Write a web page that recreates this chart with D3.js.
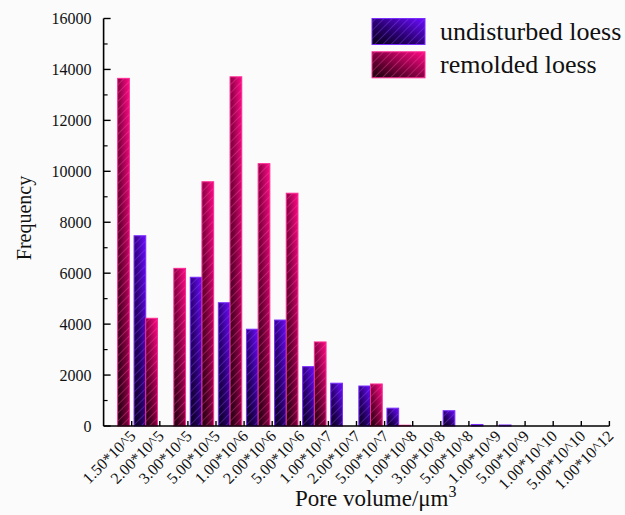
<!DOCTYPE html>
<html>
<head>
<meta charset="utf-8">
<script src="https://cdn.jsdelivr.net/npm/d3@7"></script>
<style>
  html, body { margin: 0; padding: 0; background: #fbfbfb; }
  svg { display: block; }
  text { font-family: "Liberation Serif", "Times New Roman", serif; fill: #111; }
</style>
</head>
<body>
<svg id="chart" width="625" height="515"></svg>
<script>
// Pore volume classes (upper bound of each class, μm^3)
const categories = [
  "1.50*10^5", "2.00*10^5", "3.00*10^5", "5.00*10^5", "1.00*10^6", "2.00*10^6",
  "5.00*10^6", "1.00*10^7", "2.00*10^7", "5.00*10^7", "1.00*10^8", "3.00*10^8",
  "5.00*10^8", "1.00*10^9", "5.00*10^9", "1.00*10^10", "5.00*10^10", "1.00*10^12"
];
const seriesNames = ["undisturbed loess", "remolded loess"];
const undisturbed = [0, 7470, 0, 5840, 4840, 3800, 4160, 2330, 1680, 1570, 700, 0, 600, 60, 40, 0, 0, 0];
const remolded = [13650, 4230, 6190, 9590, 13710, 10300, 9140, 3300, 0, 1650, 30, 0, 0, 0, 0, 0, 0, 0];
const yTicks = [0, 2000, 4000, 6000, 8000, 10000, 12000, 14000, 16000];

const svg = d3.select("#chart");
const plotLeft = 103.6, plotRight = 609.4, plotTop = 18.5, plotBottom = 426;

const x = d3.scaleBand().domain(categories).range([plotLeft, plotRight]).paddingInner(0).paddingOuter(0);
const xs = d3.scaleBand().domain(seriesNames).range([0, x.bandwidth()]).paddingInner(0).paddingOuter(0.2);
const y = d3.scaleLinear().domain([0, 16000]).range([plotBottom, plotTop]);

const styles = {
  "undisturbed loess": { dark: "#05000f", mid: "#2a0070", bright: "#6c0cff", edge: "#7a2cff", hatch: "#8d55ff", id: "u" },
  "remolded loess":    { dark: "#120008", mid: "#7a003c", bright: "#ff0a86", edge: "#ff2a95", hatch: "#ff5aa8", id: "r" }
};

const defs = svg.append("defs");
Object.values(styles).forEach(s => {
  const g = defs.append("linearGradient").attr("id", "grad-" + s.id)
    .attr("x1", 0).attr("y1", 1).attr("x2", 1).attr("y2", 0);
  g.append("stop").attr("offset", "0%").attr("stop-color", s.dark);
  g.append("stop").attr("offset", "45%").attr("stop-color", s.mid);
  g.append("stop").attr("offset", "100%").attr("stop-color", s.bright);
  const p = defs.append("pattern").attr("id", "hatch-" + s.id)
    .attr("patternUnits", "userSpaceOnUse").attr("width", 5.8).attr("height", 5.8)
    .attr("patternTransform", "rotate(45)");
  p.append("line").attr("x1", 0).attr("y1", 0).attr("x2", 0).attr("y2", 5.8)
    .attr("stroke", s.hatch).attr("stroke-width", 0.9).attr("stroke-opacity", 0.75);
});

const rows = categories.map((c, i) => ({ cat: c, values: [undisturbed[i], remolded[i]] }));

// Bars: gradient body, hatch overlay, thin bright outline
const groups = svg.append("g").selectAll("g").data(rows).join("g")
  .attr("transform", d => `translate(${x(d.cat)},0)`);
groups.selectAll("g").data(d => d.values.map((v, k) => ({ name: seriesNames[k], v })).filter(e => e.v > 0))
  .join("g").each(function(e) {
    const s = styles[e.name];
    const g = d3.select(this);
    const bx = xs(e.name), bw = xs.bandwidth(), by = y(e.v), bh = y(0) - y(e.v);
    g.append("rect").attr("x", bx).attr("y", by).attr("width", bw).attr("height", bh)
      .attr("fill", `url(#grad-${s.id})`);
    g.append("rect").attr("x", bx).attr("y", by).attr("width", bw).attr("height", bh)
      .attr("fill", `url(#hatch-${s.id})`)
      .attr("stroke", s.edge).attr("stroke-width", 1);
  });

// Y axis: ticks pointing inward, minor ticks between labels
const yAxis = svg.append("g").attr("transform", `translate(${plotLeft},0)`);
yAxis.append("line").attr("x1", 0).attr("x2", 0).attr("y1", plotTop).attr("y2", plotBottom)
  .attr("stroke", "#000").attr("stroke-width", 1.6);
yAxis.selectAll(".maj").data(yTicks).join("line")
  .attr("x1", 0).attr("x2", 7).attr("y1", d => y(d)).attr("y2", d => y(d))
  .attr("stroke", "#000").attr("stroke-width", 1.4);
yAxis.selectAll(".min").data(yTicks.slice(0, -1).map(d => d + 1000)).join("line")
  .attr("x1", 0).attr("x2", 4).attr("y1", d => y(d)).attr("y2", d => y(d))
  .attr("stroke", "#000").attr("stroke-width", 1.2);
yAxis.selectAll("text").data(yTicks).join("text")
  .attr("x", -12).attr("y", d => y(d)).attr("dy", "0.35em")
  .attr("text-anchor", "end").attr("font-size", 16).text(d => d);

// X axis: ticks at the upper bound of each class
const xAxis = svg.append("g");
xAxis.append("line").attr("x1", plotLeft).attr("x2", plotRight).attr("y1", plotBottom).attr("y2", plotBottom)
  .attr("stroke", "#000").attr("stroke-width", 1.6);
xAxis.selectAll(".tk").data(categories).join("line")
  .attr("x1", d => x(d) + x.bandwidth()).attr("x2", d => x(d) + x.bandwidth())
  .attr("y1", plotBottom).attr("y2", plotBottom - 5)
  .attr("stroke", "#000").attr("stroke-width", 1.4);
xAxis.selectAll("text").data(categories).join("text")
  .attr("transform", d => `translate(${x(d) + x.bandwidth() + 5},${plotBottom + 11}) rotate(-45)`)
  .attr("text-anchor", "end").attr("font-size", 16).text(d => d);

// Axis titles
svg.append("text").attr("x", 295).attr("y", 506).attr("font-size", 23)
  .html('Pore volume/μm<tspan dy="-9" font-size="16">3</tspan>');
svg.append("text").attr("transform", "translate(31,218) rotate(-90)")
  .attr("text-anchor", "middle").attr("font-size", 20).text("Frequency");

// Legend
const legend = svg.append("g");
seriesNames.forEach((name, i) => {
  const s = styles[name];
  const ly = 18.5 + i * 33.3;
  legend.append("rect").attr("x", 372).attr("y", ly).attr("width", 53).attr("height", 26)
    .attr("fill", `url(#grad-${s.id})`);
  legend.append("rect").attr("x", 372).attr("y", ly).attr("width", 53).attr("height", 26)
    .attr("fill", `url(#hatch-${s.id})`).attr("stroke", s.edge).attr("stroke-width", 1);
  legend.append("text").attr("x", 440).attr("y", ly + 21).attr("font-size", 26).text(name);
});
</script>
</body>
</html>
